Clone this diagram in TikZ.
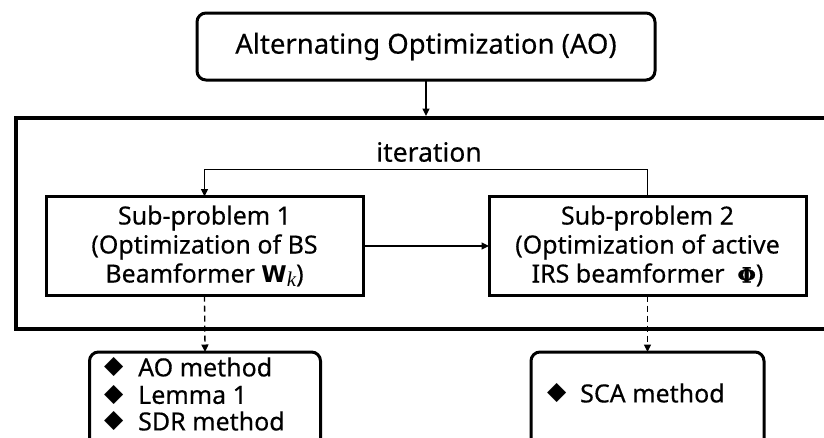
\documentclass[tikz,border=0pt]{standalone}
\usepackage[no-math]{fontspec}
\setmainfont{Noto Sans}[FakeBold=0.35]
\newfontfamily\symfont{DejaVu Sans}
\newfontfamily\serifg{Liberation Serif}
\newfontfamily\phifont{DejaVu Serif}[FakeBold=1.2]
\usetikzlibrary{arrows.meta}
\begin{document}
\begin{tikzpicture}[x=1pt,y=-1pt,
  box/.style={draw,line width=3pt,inner sep=0pt,outer sep=0pt,align=center},
  rbox/.style={box,rounded corners=9pt},
  arr/.style={-{Triangle[length=7.5pt,width=7pt]},line width=1.3pt},
  darr/.style={arr,dash pattern=on 6pt off 4pt},
  subtxt/.style={font=\fontsize{25}{29}\selectfont},
  item/.style={anchor=west,inner sep=0pt,font=\fontsize{25}{29}\selectfont},
  dia/.style={anchor=west,inner sep=0pt,font=\symfont\fontsize{25}{28}\selectfont}]
\useasboundingbox (0,0) rectangle (824,437);
\node[rbox,minimum width=458pt,minimum height=67pt,font=\fontsize{27.5}{32}\selectfont] (ao) at (426,46.5) {Alternating Optimization (AO)};
\node[draw,line width=4pt,minimum width=818pt,minimum height=211pt,inner sep=0pt] (frame) at (425,223.5) {};
\node[box,subtxt,minimum width=317pt,minimum height=99pt] (sub1) at (204.5,246) {Sub-problem 1\\(Optimization of BS\\Beamformer {\symfont\bfseries\fontsize{23}{29}\selectfont W}\raisebox{-4pt}{\serifg\itshape\fontsize{21}{21}\selectfont k})};
\node[box,subtxt,minimum width=317pt,minimum height=99pt] (sub2) at (647.5,246) {Sub-problem 2\\(Optimization of active\\IRS beamformer \ {\phifont\bfseries\fontsize{21}{29}\selectfont Φ})};
\node[font=\fontsize{26.5}{30}\selectfont] (it) at (429,152) {iteration};
\node[rbox,minimum width=231pt,minimum height=109pt] (b1) at (205,406.5) {};
\node[rbox,minimum width=233pt,minimum height=109pt] (b2) at (647.5,406.5) {};
\node[dia] (d1) at (104,367) {◆};
\node[dia] (d2) at (104,395) {◆};
\node[dia] (d3) at (104,421) {◆};
\node[dia] (d4) at (547,393) {◆};
\node[item] (l1) at (138,367) {AO method};
\node[item] (l2) at (138,395) {Lemma 1};
\node[item] (l3) at (138,421) {SDR method};
\node[item] (r1) at (580,393) {SCA method};
\draw[arr] (ao.south) -- (ao.south |- frame.north);
\draw[arr] (sub2.north) -- ++(0,-27) -| (sub1.north);
\draw[arr] (sub1.east) -- (sub2.west);
\draw[darr] (sub1.south) -- (b1.north);
\draw[darr] (sub2.south) -- (b2.north);
\end{tikzpicture}
\end{document}
